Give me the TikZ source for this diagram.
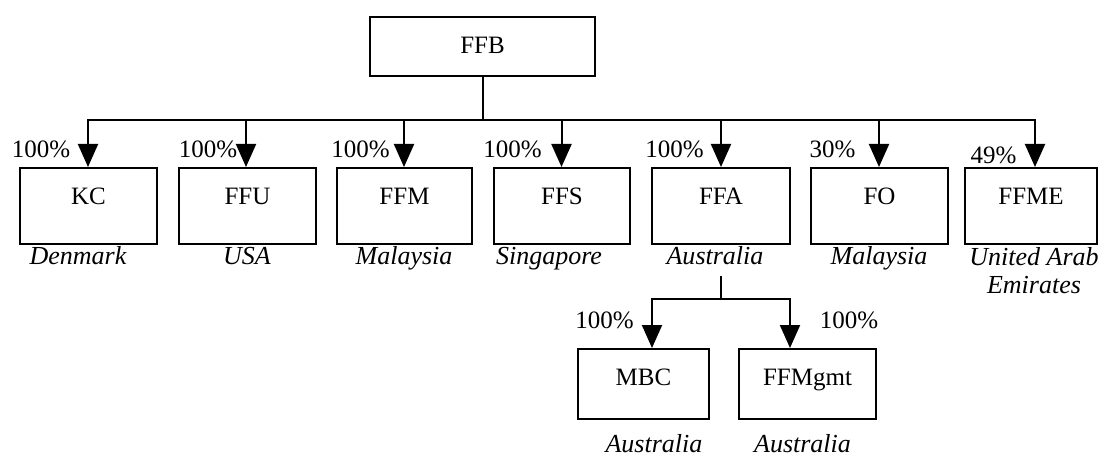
\documentclass[tikz,border=0pt]{standalone}
\usepackage{fontspec}
\setmainfont{Liberation Serif}
\usetikzlibrary{arrows.meta}
\begin{document}
\begin{tikzpicture}[x=1pt,y=-1pt,
  font=\fontsize{25}{28}\selectfont,
  box/.style={draw,line width=2pt,inner sep=0pt,minimum height=76pt,text height=17pt,text depth=20.5pt},
  subbox/.style={draw,line width=2pt,inner sep=0pt,minimum height=70pt,text height=17pt,text depth=14.5pt},
  conn/.style={line width=2pt,line cap=rect},
  arr/.style={line width=2pt,-{Triangle[width=20pt,length=23pt]}},
  pct/.style={anchor=base,inner sep=0pt},
  ctry/.style={anchor=base,inner sep=0pt,font=\fontsize{26}{28}\selectfont\itshape,align=center}]
\useasboundingbox (0,0) rectangle (1103,457);
% boxes
\node[draw,line width=2pt,inner sep=0pt,minimum width=225pt,minimum height=59pt,text height=17pt,text depth=2.5pt] (FFB) at (482.5,46.5) {FFB};
\node[box,minimum width=137pt] (KC)   at (88.5,206)  {KC};
\node[box,minimum width=137pt] (FFU)  at (247.5,206) {FFU};
\node[box,minimum width=135pt] (FFM)  at (404.5,206) {FFM};
\node[box,minimum width=136pt] (FFS)  at (562,206)   {FFS};
\node[box,minimum width=138pt] (FFA)  at (721,206)   {FFA};
\node[box,minimum width=137pt] (FO)   at (879.5,206) {FO};
\node[box,minimum width=132pt] (FFME) at (1031,206)  {FFME};
\node[subbox,minimum width=131pt] (MBC) at (643.5,384) {MBC};
\node[subbox,minimum width=137pt] (MGT) at (807.5,384) {FFMgmt};
% bar coordinates
\coordinate (b1) at (88,120);
\coordinate (b2) at (246,120);
\coordinate (b3) at (404,120);
\coordinate (b4) at (561.5,120);
\coordinate (b5) at (721,120);
\coordinate (b6) at (879,120);
\coordinate (b7) at (1035,120);
\draw[conn] (FFB.south) -- (FFB.south |- b1);
\draw[conn] (b1) -- (b7);
\draw[arr] (b1) -- (b1 |- KC.north);
\draw[arr] (b2) -- (b2 |- FFU.north);
\draw[arr] (b3) -- (b3 |- FFM.north);
\draw[arr] (b4) -- (b4 |- FFS.north);
\draw[arr] (b5) -- (b5 |- FFA.north);
\draw[arr] (b6) -- (b6 |- FO.north);
\draw[arr] (b7) -- (b7 |- FFME.north);
% sub level
\coordinate (s0) at (721,277);
\coordinate (s1) at (652,299);
\coordinate (s2) at (790,299);
\draw[conn] (s0) -- (s0 |- s1);
\draw[conn] (s1) -- (s2);
\draw[arr] (s1) -- (s1 |- MBC.north);
\draw[arr] (s2) -- (s2 |- MGT.north);
% percentages
\node[pct] (p1) at (41,158)    {100\%};
\node[pct] (p2) at (208,158)   {100\%};
\node[pct] (p3) at (360.5,158) {100\%};
\node[pct] (p4) at (512.5,158) {100\%};
\node[pct] (p5) at (674.5,158) {100\%};
\node[pct] (p6) at (832.5,158) {30\%};
\node[pct] (p7) at (993.5,164) {49\%};
\node[pct] (p8) at (604.5,328) {100\%};
\node[pct] (p9) at (849,328)   {100\%};
% countries
\node[ctry] (c1) at (78,264)   {Denmark};
\node[ctry] (c2) at (247,264)  {USA};
\node[ctry] (c3) at (404,264)  {Malaysia};
\node[ctry] (c4) at (549,264)  {Singapore};
\node[ctry] (c5) at (715,264)  {Australia};
\node[ctry] (c6) at (879,264)  {Malaysia};
\node[ctry] (c7) at (1034,293) {United Arab\\Emirates};
\node[ctry] (c8) at (654,452)  {Australia};
\node[ctry] (c9) at (802.5,452) {Australia};
\end{tikzpicture}
\end{document}
